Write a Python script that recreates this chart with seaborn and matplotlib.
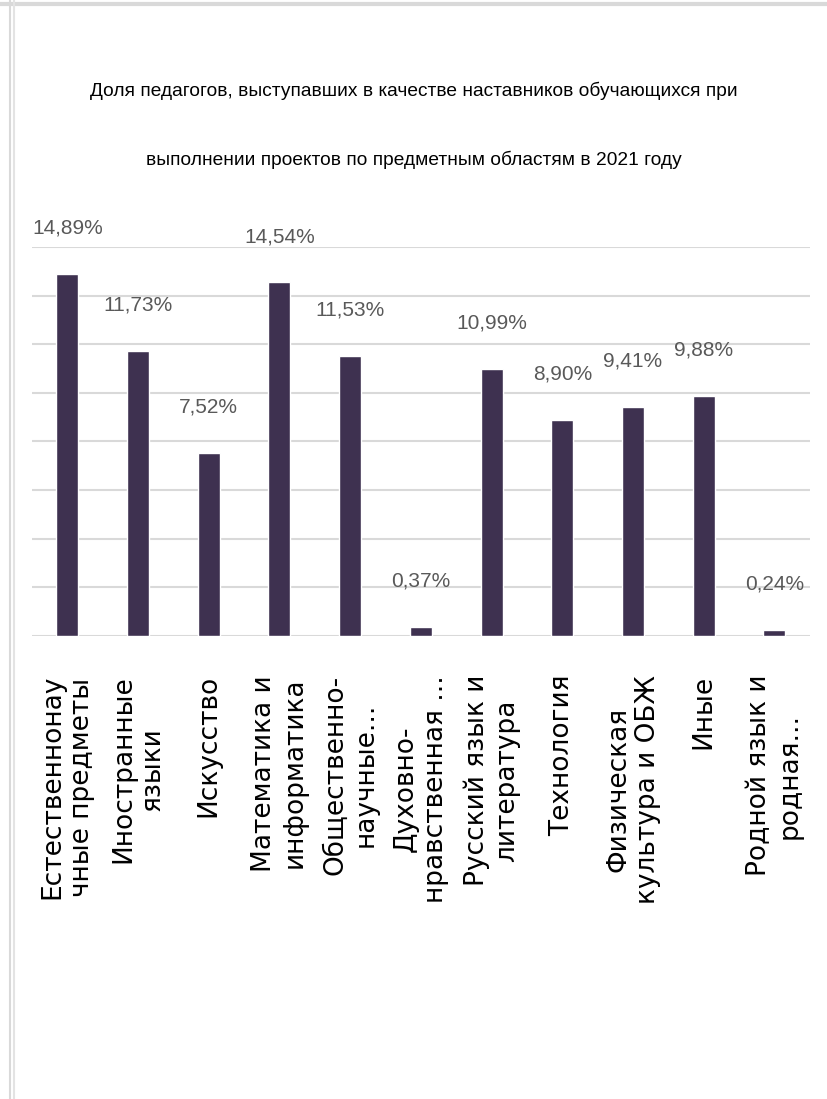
import matplotlib
matplotlib.use("Agg")
import matplotlib.pyplot as plt
import seaborn as sns
import pandas as pd
from matplotlib.lines import Line2D

categories = [
    "Естественнонау\nчные предметы",
    "Иностранные\nязыки",
    "Искусство",
    "Математика и\nинформатика",
    "Общественно-\nнаучные...",
    "Духовно-\nнравственная ...",
    "Русский язык и\nлитература",
    "Технология",
    "Физическая\nкультура и ОБЖ",
    "Иные",
    "Родной язык и\nродная...",
]
values = [14.89, 11.73, 7.52, 14.54, 11.53, 0.37, 10.99, 8.90, 9.41, 9.88, 0.24]
value_labels = ["14,89%", "11,73%", "7,52%", "14,54%", "11,53%", "0,37%",
                "10,99%", "8,90%", "9,41%", "9,88%", "0,24%"]
title = ("Доля педагогов, выступавших в качестве наставников обучающихся при\n"
         "выполнении проектов по предметным областям в 2021 году")

df = pd.DataFrame({"category": categories, "value": values})

sns.set_theme(style="white")
narrow = ["Liberation Sans", "DejaVu Sans"]
plt.rcParams["font.family"] = ["DejaVu Sans"]

fig = plt.figure(figsize=(8.28, 10.99), dpi=100)
ax = fig.add_axes([0.0386, 0.4213, 0.9394, 0.354])

sns.barplot(data=df, x="category", y="value", color="#3e3150",
            width=0.31, saturation=1, ax=ax)

ax.set_ylim(0, 16)
ax.set_yticks(range(0, 17, 2))
ax.yaxis.grid(True, color="#d9d9d9", linewidth=1.5)
ax.set_axisbelow(True)
ax.tick_params(axis="y", left=False, labelleft=False)
ax.tick_params(axis="x", bottom=False, pad=22)
for s in ax.spines.values():
    s.set_visible(False)
ax.set_xlabel("")
ax.set_ylabel("")
ax.set_xlim(-0.5, len(categories) - 0.5)

for lbl in ax.get_xticklabels():
    lbl.set_rotation(90)
    lbl.set_fontsize(19)
    lbl.set_color("black")
    lbl.set_linespacing(1.2)

for i, (v, t) in enumerate(zip(values, value_labels)):
    ax.annotate(t, (i, v), xytext=(0, 33), textcoords="offset points",
                ha="center", va="center", fontsize=15, color="#595959",
                family=narrow)

fig.text(0.5, 0.886, title, ha="center", va="center",
         fontsize=13.8, color="black", family=narrow, linespacing=4.5)

# frame lines around the picture
fig.add_artist(Line2D([0, 1], [0.9965, 0.9965], transform=fig.transFigure,
                      color="#d9d9d9", linewidth=3))
fig.add_artist(Line2D([0.0115, 0.0115], [0, 1], transform=fig.transFigure,
                      color="#d9d9d9", linewidth=1.5))
fig.add_artist(Line2D([0.0165, 0.0165], [0, 1], transform=fig.transFigure,
                      color="#e3e3e3", linewidth=1.5))

fig.savefig("out.png", dpi=100, facecolor="white")
